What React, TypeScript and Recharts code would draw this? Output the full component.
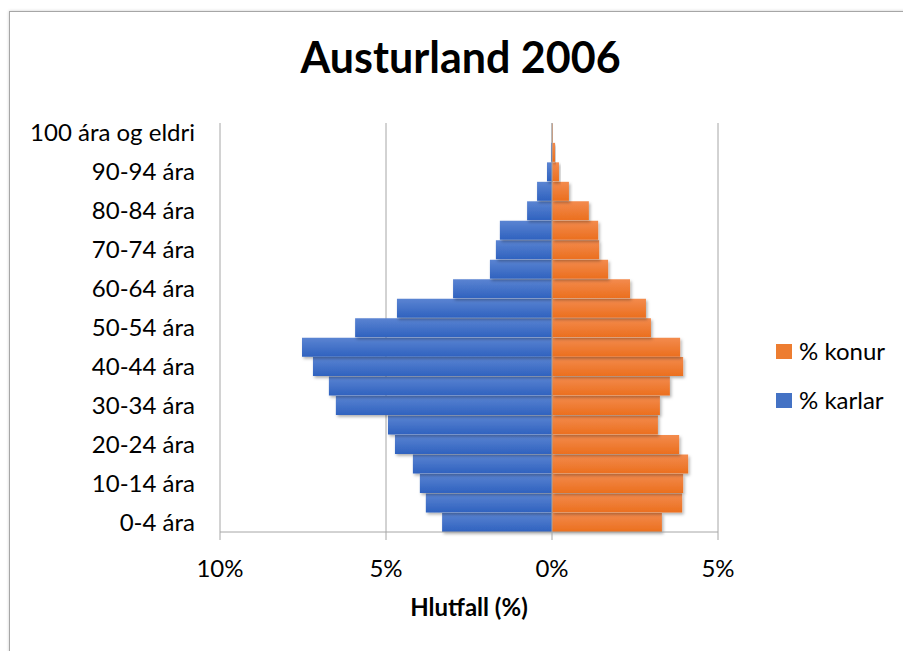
import { BarChart, Bar, XAxis, YAxis, CartesianGrid, ReferenceLine } from 'recharts';

const ageGroups = [
  '0-4 ára', '5-9 ára', '10-14 ára', '15-19 ára', '20-24 ára', '25-29 ára', '30-34 ára',
  '35-39 ára', '40-44 ára', '45-49 ára', '50-54 ára', '55-59 ára', '60-64 ára', '65-69 ára',
  '70-74 ára', '75-79 ára', '80-84 ára', '85-89 ára', '90-94 ára', '95-99 ára', '100 ára og eldri',
];

// karlar shown to the left (negative), konur to the right
const karlar = [
  3.31, 3.8, 3.98, 4.19, 4.73, 4.94, 6.51, 6.72, 7.2, 7.53, 5.93,
  4.67, 2.98, 1.87, 1.69, 1.57, 0.75, 0.45, 0.15, 0.03, 0.0,
];
const konur = [
  3.31, 3.92, 3.95, 4.1, 3.83, 3.19, 3.25, 3.55, 3.95, 3.86, 2.98,
  2.83, 2.35, 1.69, 1.42, 1.39, 1.11, 0.51, 0.21, 0.09, 0.02,
];

const xTicks = [-10, -5, 0, 5];

const legendItems = [
  { name: '% konur', color: '#ed7d31' },
  { name: '% karlar', color: '#4472c4' },
];

const data = ageGroups.map((age, i) => ({
  age,
  karlar: -karlar[i],
  konur: konur[i],
}));

const FONT = 'Lato, "Open Sans", sans-serif';

export default function App() {
  return (
    <div
      style={{
        position: 'fixed', left: 0, top: 0, width: 903, height: 651,
        overflow: 'hidden', background: '#fff', fontFamily: FONT, color: '#000',
      }}
    >
      <div
        style={{
          position: 'absolute', left: 9, top: 11, width: 1000, height: 1000,
          border: '1.5px solid #a6a6a6', boxShadow: '0 0 3px rgba(0,0,0,0.2)',
        }}
      />
      <div
        style={{
          position: 'absolute', left: 0, top: 31, width: 921, textAlign: 'center',
          fontWeight: 700, fontSize: 43, lineHeight: '52px',
        }}
      >
        Austurland 2006
      </div>
      <div
        style={{
          position: 'absolute', left: 0, top: 592, width: 938, textAlign: 'center',
          fontWeight: 700, fontSize: 24, lineHeight: '29px',
        }}
      >
        Hlutfall (%)
      </div>
      {legendItems.map((it, i) => (
        <div
          key={it.name}
          style={{
            position: 'absolute', left: 776, top: 339 + i * 49, display: 'flex',
            alignItems: 'center', fontSize: 24, lineHeight: '24px',
          }}
        >
          <span style={{ width: 16, height: 15, background: it.color, display: 'inline-block', marginRight: 7 }} />
          <span>{it.name}</span>
        </div>
      ))}
      <div style={{ position: 'absolute', left: 0, top: 0 }}>
        <BarChart
          width={903}
          height={651}
          data={data}
          layout="vertical"
          stackOffset="sign"
          barCategoryGap="2%"
          margin={{ top: 123, right: 185, bottom: 59, left: 20 }}
        >
          <defs>
            <linearGradient id="gBlue" x1="0" y1="0" x2="0" y2="1">
              <stop offset="0%" stopColor="#5b84d2" />
              <stop offset="100%" stopColor="#2f62bf" />
            </linearGradient>
            <linearGradient id="gOrange" x1="0" y1="0" x2="0" y2="1">
              <stop offset="0%" stopColor="#f38b4e" />
              <stop offset="100%" stopColor="#eb6f1e" />
            </linearGradient>
            <filter id="barShadow" x="-10%" y="-30%" width="130%" height="180%">
              <feDropShadow dx="1.5" dy="2" stdDeviation="1.5" floodColor="#000" floodOpacity="0.3" />
            </filter>
          </defs>
          <CartesianGrid horizontal={false} stroke="#a6a6a6" strokeWidth={1} />
          <XAxis
            type="number"
            domain={[-10, 5]}
            ticks={xTicks}
            tickFormatter={(v: number) => `${Math.abs(v)}%`}
            stroke="#a6a6a6"
            tickSize={8}
            tickMargin={20}
            height={60}
            tick={{ fill: '#000', fontSize: 24, fontFamily: FONT }}
          />
          <YAxis
            type="category"
            dataKey="age"
            reversed
            interval={1}
            width={200}
            axisLine={false}
            tickLine={false}
            tickSize={0}
            tickMargin={25}
            tick={{ fill: '#000', fontSize: 24, fontFamily: FONT }}
          />
          <Bar
            dataKey="karlar"
            name="% karlar"
            stackId="a"
            fill="url(#gBlue)"
            filter="url(#barShadow)"
            isAnimationActive={false}
          />
          <Bar
            dataKey="konur"
            name="% konur"
            stackId="a"
            fill="url(#gOrange)"
            filter="url(#barShadow)"
            isAnimationActive={false}
          />
          <ReferenceLine x={0} stroke="#a6a6a6" strokeWidth={1} />
        </BarChart>
      </div>
    </div>
  );
}
